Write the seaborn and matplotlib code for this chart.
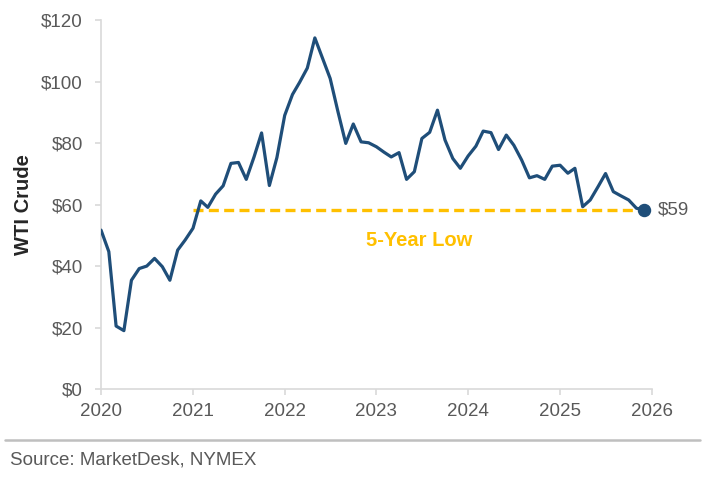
import pandas as pd
import numpy as np
import seaborn as sns
import matplotlib.pyplot as plt
import matplotlib.dates as mdates

# monthly WTI crude, Jan 2020 - Dec 2025
start_month = '2020-01-01'
wti_2020 = [51.7, 44.7, 20.5, 19.0, 35.4, 39.2, 40.0, 42.5, 39.8, 35.4, 45.2, 48.5]
wti_2021 = [52.3, 61.2, 59.1, 63.4, 66.1, 73.4, 73.7, 68.2, 75.5, 83.3, 66.2, 75.3]
wti_2022 = [89.0, 95.8, 99.7, 104.4, 114.2, 107.5, 101.0, 90.2, 79.9, 86.2, 80.4, 80.1]
wti_2023 = [78.8, 77.0, 75.5, 76.9, 68.2, 70.7, 81.5, 83.5, 90.7, 81.0, 75.0, 71.8]
wti_2024 = [75.8, 79.0, 83.9, 83.4, 77.9, 82.6, 79.3, 74.5, 68.7, 69.4, 68.2, 72.5]
wti_2025 = [72.8, 70.2, 71.8, 59.3, 61.5, 65.8, 70.1, 64.2, 62.8, 61.5, 58.8, 58.4]

year_ticks = ['2020', '2021', '2022', '2023', '2024', '2025', '2026']
y_ticks = [0, 20, 40, 60, 80, 100, 120]
low_start = '2021-01-01'
low_label = '5-Year Low'
last_label = '$59'

prices = wti_2020 + wti_2021 + wti_2022 + wti_2023 + wti_2024 + wti_2025
df = pd.DataFrame({'date': pd.date_range(start_month, periods=len(prices), freq='MS'),
                   'wti': prices})

sns.set_style('white')
plt.rcParams['font.family'] = ['Liberation Sans', 'DejaVu Sans']

fig = plt.figure(figsize=(7.07, 4.78), dpi=100)
ax = fig.add_axes([0.1429, 0.186, 0.779, 0.772])

navy = '#1f4e79'
gold = '#ffc000'
grey_txt = '#595959'

# 5-year low reference line
low_val = df['wti'].iloc[-1]
low_df = df[df['date'] >= low_start].copy()
low_df['low'] = low_val
sns.lineplot(data=low_df, x='date', y='low', ax=ax, color=gold, linewidth=2.4,
             linestyle=(0, (3.0, 1.6)), zorder=2)

sns.lineplot(data=df, x='date', y='wti', ax=ax, color=navy, linewidth=2.3, zorder=3)
ax.scatter(df['date'].iloc[-1], low_val, s=75, color=navy, zorder=4)
ax.annotate(last_label, (df['date'].iloc[-1], low_val), xytext=(10, 0),
            textcoords='offset points', va='center', ha='left',
            fontsize=13.5, color=grey_txt)

mid = df['date'].iloc[0] + (pd.Timestamp('2026-01-01') - df['date'].iloc[0]) * 0.578
ax.text(mid, low_val - 10, low_label, ha='center', va='center',
        fontsize=14.5, fontweight='bold', color=gold)

ax.set_xlim(pd.Timestamp('2020-01-01'), pd.Timestamp('2026-01-01'))
ax.set_ylim(0, 120)
ax.set_xticks([pd.Timestamp(y + '-01-01') for y in year_ticks])
ax.set_xticklabels(year_ticks)
ax.set_yticks(y_ticks)
ax.set_yticklabels(['$' + str(v) for v in y_ticks])

ax.set_xlabel('')
ax.set_ylabel('WTI Crude', fontsize=14.5, fontweight='bold', color='#262626', labelpad=6)

for s in ['top', 'right']:
    ax.spines[s].set_visible(False)
for s in ['left', 'bottom']:
    ax.spines[s].set_color('#d9d9d9')
    ax.spines[s].set_linewidth(1.2)

ax.tick_params(axis='both', colors='#d9d9d9', labelcolor=grey_txt, labelsize=13.5,
               length=4, width=1.2, direction='out', left=True, bottom=True)
ax.tick_params(axis='x', pad=6)
ax.tick_params(axis='y', pad=9)

# footer rule and source
fig.add_artist(plt.Line2D([0.007, 0.99], [0.079, 0.079], color='#bfbfbf', linewidth=1.8))
fig.text(0.014, 0.037, 'Source: MarketDesk, NYMEX', fontsize=13.5, color=grey_txt,
         ha='left', va='center')

plt.savefig('out.png', dpi=100)
